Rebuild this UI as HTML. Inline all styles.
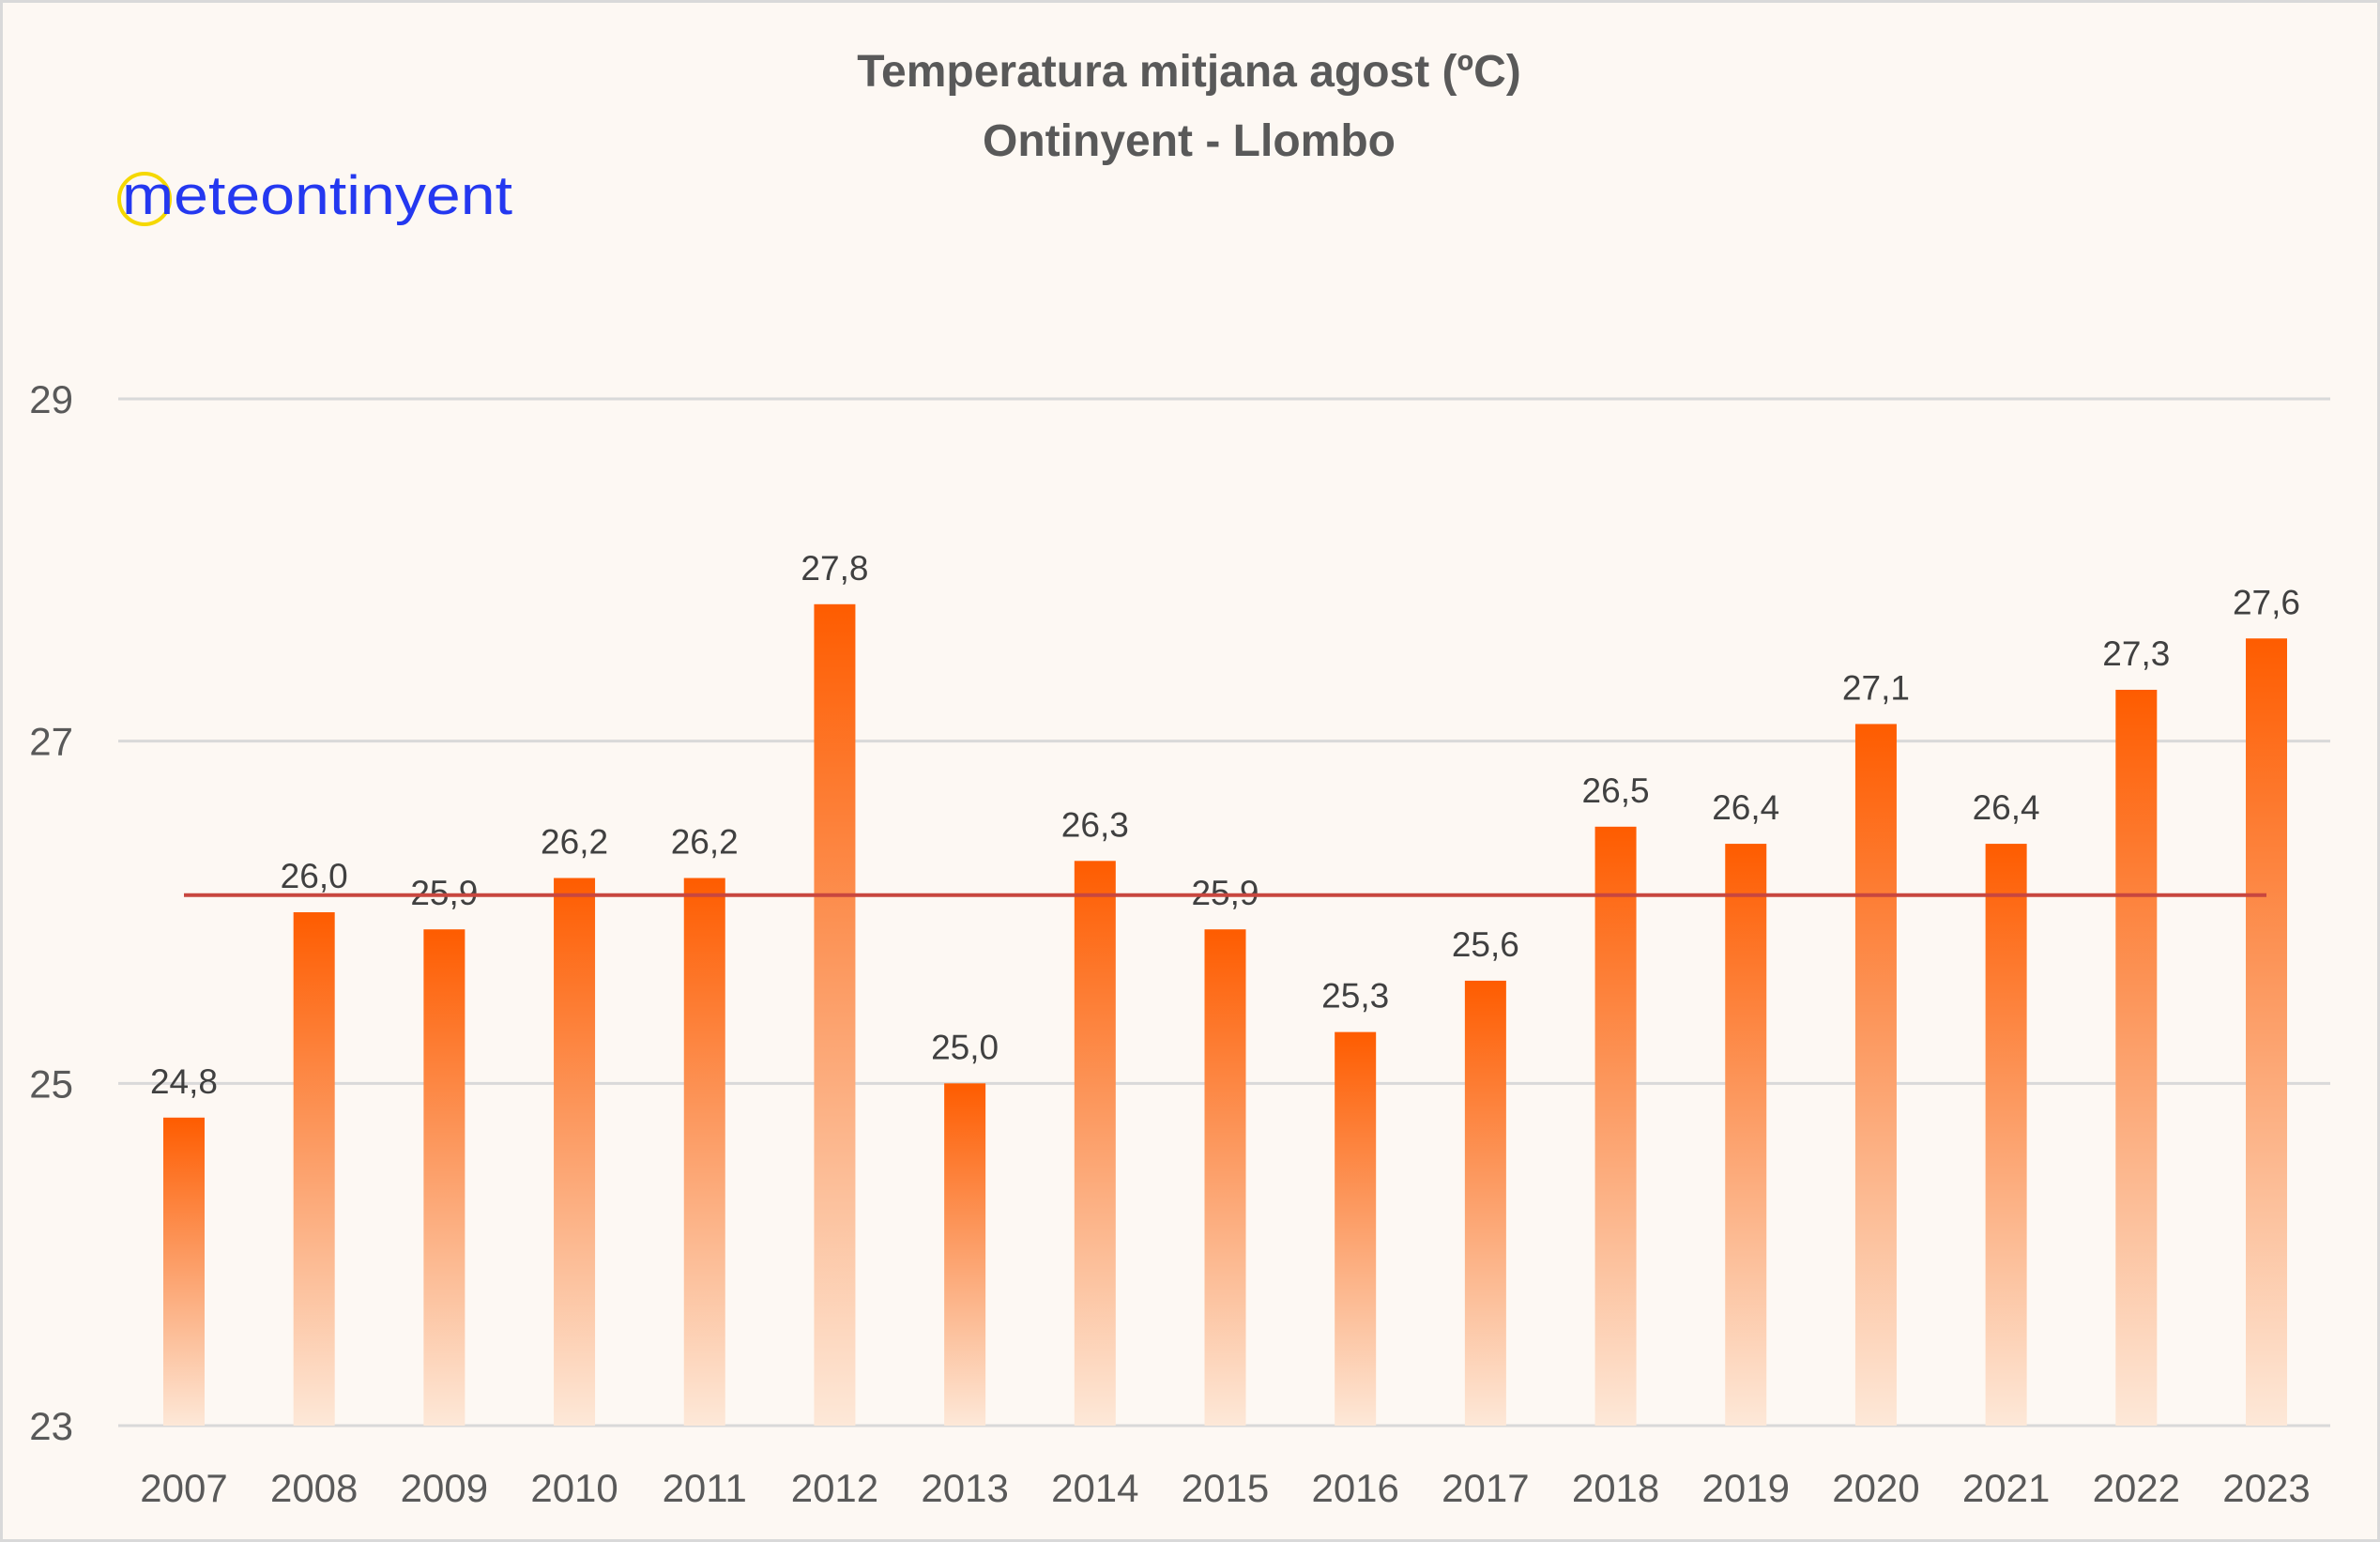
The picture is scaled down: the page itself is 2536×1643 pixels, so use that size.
<!DOCTYPE html>
<html><head><meta charset="utf-8"><style>
html,body{margin:0;padding:0;background:#fdf8f3;}
svg{display:block;font-family:"Liberation Sans",sans-serif;}
</style></head><body>
<svg id="chart" width="2536" height="1643" viewBox="0 0 2536 1643">
<defs>
<linearGradient id="barGrad" x1="0" y1="0" x2="0" y2="1">
<stop offset="0" stop-color="#fe5c00"/>
<stop offset="0.5" stop-color="#fca16c"/>
<stop offset="1" stop-color="#fde8d8"/>
</linearGradient>
</defs>
<rect x="1.5" y="1.5" width="2533" height="1640" fill="#fdf8f3" stroke="#d9d9d9" stroke-width="3"/>
<text x="1267" y="92" text-anchor="middle" font-size="48" font-weight="bold" fill="#595959">Temperatura mitjana agost (ºC)</text>
<text x="1267" y="166" text-anchor="middle" font-size="48" font-weight="bold" fill="#595959">Ontinyent - Llombo</text>
<g>
<circle cx="154" cy="212" r="27" fill="none" stroke="#f5d800" stroke-width="4"/>
<text x="130" y="228" font-size="58" fill="#2438f0" textLength="416" lengthAdjust="spacingAndGlyphs">meteontinyent</text>
</g>
<g id="grid"></g>
<g id="bars"></g>
<g id="labels"></g>
</svg>
<script>
const categories=["2007","2008","2009","2010","2011","2012","2013","2014","2015","2016","2017","2018","2019","2020","2021","2022","2023"];
const values=[24.8,26.0,25.9,26.2,26.2,27.8,25.0,26.3,25.9,25.3,25.6,26.5,26.4,27.1,26.4,27.3,27.6];
const yTicks=[23,25,27,29];
const averageValue=26.1;
const NS="http://www.w3.org/2000/svg";
const yMin=23,yMax=29,plotTop=425,plotBottom=1519,plotLeft=126,plotRight=2483;
function yScale(v){return plotBottom-(v-yMin)/(yMax-yMin)*(plotBottom-plotTop);}
const first=196,step=(2415-196)/16;
function xScale(i){return first+i*step;}
function mk(tag,attrs,parent){const e=document.createElementNS(NS,tag);for(const k in attrs)e.setAttribute(k,attrs[k]);parent.appendChild(e);return e;}
const grid=document.getElementById('grid'),bars=document.getElementById('bars'),labels=document.getElementById('labels');
yTicks.forEach(t=>{
 const l=mk('line',{x1:plotLeft,x2:plotRight,y1:yScale(t),y2:yScale(t),stroke:'#d9d9d9','stroke-width':3},grid);
 
 
 const tx=mk('text',{x:78,y:yScale(t)+15,'text-anchor':'end','font-size':42,fill:'#595959'},grid);
 tx.textContent=t;
 
 
});
categories.forEach((c,i)=>{
 const x=xScale(i),y=yScale(values[i]);
 const r=mk('rect',{x:x-22,y:y,width:44,height:plotBottom-y,fill:'url(#barGrad)'},bars);
 
 
 const v=mk('text',{x:x,y:y-26,'text-anchor':'middle','font-size':37,fill:'#404040'},labels);
 v.textContent=values[i].toFixed(1).replace('.',',');
 
 
 const xl=mk('text',{x:x,y:1600,'text-anchor':'middle','font-size':42,fill:'#595959'},labels);
 xl.textContent=c;
 
 
});
const avg=mk('line',{x1:xScale(0),x2:xScale(categories.length-1),y1:yScale(averageValue),y2:yScale(averageValue),stroke:'#c8473f','stroke-width':4},labels);


</script>
</body></html>
